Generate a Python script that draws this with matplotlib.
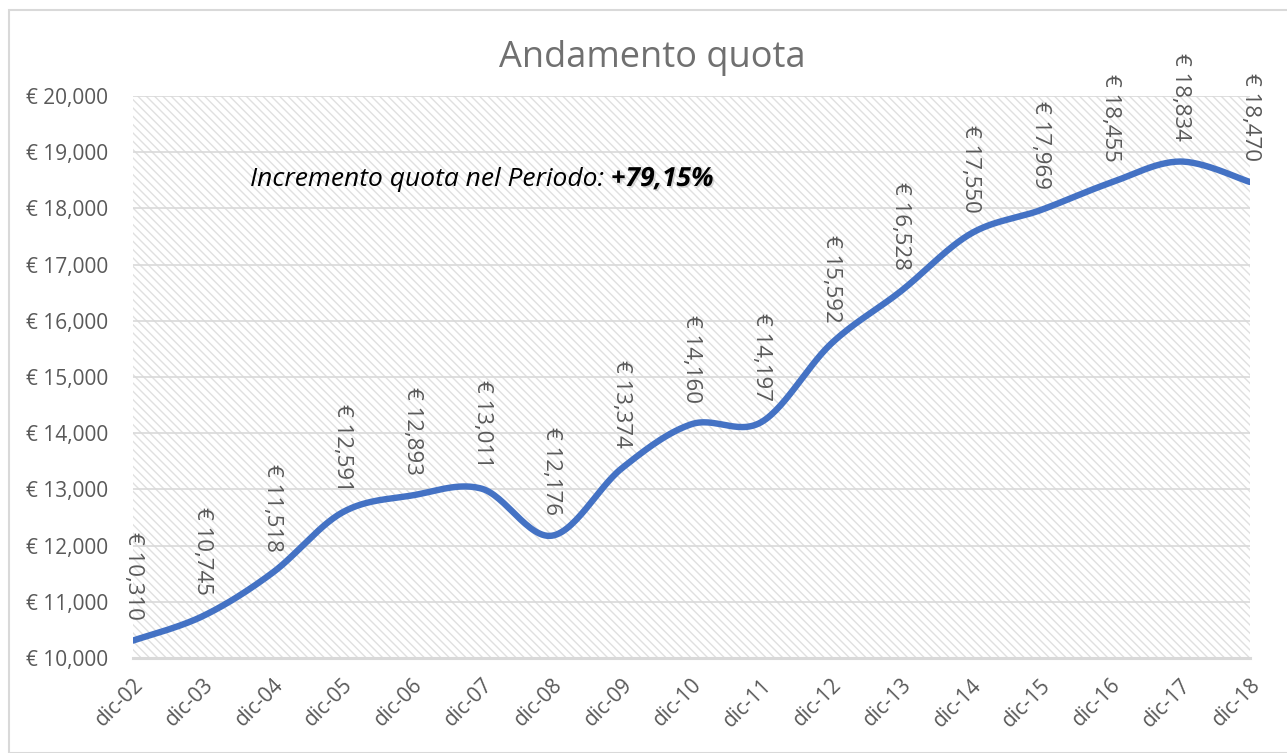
import numpy as np
import matplotlib.pyplot as plt
import matplotlib.patheffects as pe
from matplotlib.patches import Rectangle
from matplotlib.ticker import FuncFormatter

# dati
periodi = ["dic-02", "dic-03", "dic-04", "dic-05", "dic-06", "dic-07", "dic-08",
           "dic-09", "dic-10", "dic-11", "dic-12", "dic-13", "dic-14", "dic-15",
           "dic-16", "dic-17", "dic-18"]
quota = [10310, 10745, 11518, 12591, 12893, 13011, 12176, 13374, 14160,
         14197, 15592, 16528, 17550, 17969, 18455, 18834, 18470]
titolo = "Andamento quota"
nota = "Incremento quota nel Periodo: "
incremento = "+79,15%"

GREY = "#595959"
BLUE = "#4472C4"

plt.rcParams['font.family'] = ['Open Sans', 'DejaVu Sans']
plt.rcParams['hatch.color'] = "#e0e0e0"
plt.rcParams['hatch.linewidth'] = 1.0


def smooth(xs, ys, n=30):
    """Curva smussata stile Excel (Bezier tipo Catmull-Rom)."""
    xs = np.asarray(xs, float)
    ys = np.asarray(ys, float)
    px = np.concatenate([[xs[0]], xs, [xs[-1]]])
    py = np.concatenate([[ys[0]], ys, [ys[-1]]])
    out_x, out_y = [], []
    t = np.linspace(0, 1, n)
    for i in range(1, len(px) - 2):
        p0 = np.array([px[i], py[i]])
        p3 = np.array([px[i + 1], py[i + 1]])
        c1 = p0 + (np.array([px[i + 1], py[i + 1]]) - np.array([px[i - 1], py[i - 1]])) / 6
        c2 = p3 - (np.array([px[i + 2], py[i + 2]]) - np.array([px[i], py[i]])) / 6
        b = ((1 - t) ** 3)[:, None] * p0 + (3 * (1 - t) ** 2 * t)[:, None] * c1 \
            + (3 * (1 - t) * t ** 2)[:, None] * c2 + (t ** 3)[:, None] * p3
        out_x.extend(b[:, 0])
        out_y.extend(b[:, 1])
    return np.array(out_x), np.array(out_y)


fig = plt.figure(figsize=(12.87, 7.53), dpi=100)
fig.patches.append(Rectangle((9 / 1287, 0), 1.0, 1 - 10 / 753, transform=fig.transFigure,
                             fill=False, edgecolor="#d9d9d9", linewidth=1.5))

ax = fig.add_axes([133 / 1287, 1 - 658 / 753, (1250 - 133) / 1287, (658 - 96) / 753])
ax.patch.set_facecolor("white")
ax.patch.set_hatch("\\\\\\\\")
ax.patch.set_edgecolor("#e0e0e0")
ax.patch.set_linewidth(0)

x = np.arange(len(periodi))
sx, sy = smooth(x, quota)
ax.plot(sx, sy, color=BLUE, linewidth=4.6, solid_capstyle="round", zorder=3)

for xi, v in zip(x, quota):
    ax.annotate(f"€ {v:,}", (xi, v), xytext=(0, 15), textcoords="offset points",
                rotation=270, ha="center", va="bottom", fontsize=16, color=GREY,
                zorder=4)

ax.set_xlim(0, len(periodi) - 1)
ax.set_ylim(10000, 20000)
ax.set_yticks(np.arange(10000, 20001, 1000))
ax.yaxis.set_major_formatter(FuncFormatter(lambda v, p: f"€ {int(v):,}"))
ax.set_xticks(x)
ax.set_xticklabels(periodi, rotation=45, ha="right", rotation_mode="anchor")
ax.tick_params(axis="both", length=0, labelsize=15, labelcolor=GREY)
ax.tick_params(axis="y", pad=18)
ax.tick_params(axis="x", pad=12)
ax.grid(axis="y", color="#d9d9d9", linewidth=1.2, zorder=1)
ax.set_axisbelow(True)
for s in ["top", "right", "left"]:
    ax.spines[s].set_visible(False)
ax.spines["bottom"].set_color("#d9d9d9")
ax.spines["bottom"].set_linewidth(2.2)

fig.text(652 / 1287, 1 - 58 / 753, titolo, ha="center", va="center",
         fontsize=26, color="#707070")

t1 = fig.text(250 / 1287, 1 - 186 / 753, nota, fontsize=19,
              style="italic", color="black")
ax.annotate(incremento, xy=(1, 0), xycoords=t1, va="bottom", ha="left",
            fontsize=19, style="italic", weight="bold", color="black",
            path_effects=[pe.withSimplePatchShadow(offset=(1.2, -1.2),
                                                   shadow_rgbFace="gray", alpha=0.3)])

fig.savefig("out.png", dpi=100)
